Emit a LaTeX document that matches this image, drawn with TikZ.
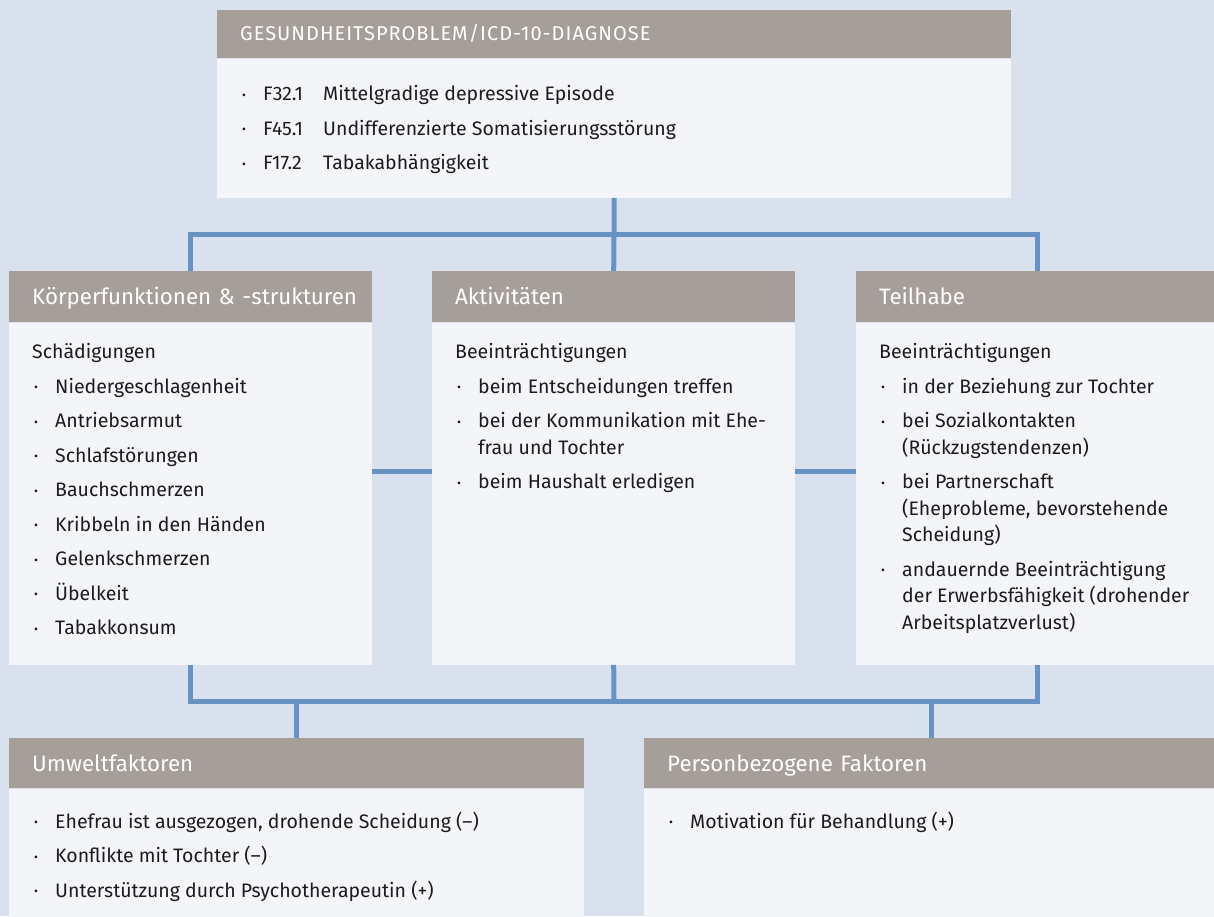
\documentclass[tikz,border=0pt]{standalone}
\usepackage{fontspec}
\setmainfont{Fira Sans}

\definecolor{hintergrund}{HTML}{DAE1EE}
\definecolor{kopfgrau}{HTML}{A69E98}
\definecolor{feldweiss}{HTML}{F3F5F9}
\definecolor{linienblau}{HTML}{6892C2}
\definecolor{schrift}{HTML}{1C1C1C}

\newcommand{\kopfschrift}{\fontsize{22.3}{25}\selectfont}
\newcommand{\feldschrift}{\fontsize{19.5}{26.5}\selectfont}
\newcommand{\punktzeichen}{\raisebox{1.5pt}{\fontsize{12}{12}\selectfont •}}

% Aufzaehlung mit kleinem Punkt
\newenvironment{punkte}{%
	\begin{list}{\punktzeichen}{%
		\setlength{\leftmargin}{23pt}\setlength{\labelwidth}{23pt}%
		\setlength{\labelsep}{0pt}\setlength{\itemsep}{8pt}%
		\setlength{\parsep}{0pt}\setlength{\topsep}{8pt}\setlength{\partopsep}{0pt}%
		\renewcommand{\makelabel}[1]{\hspace*{2pt}##1\hfil}}}%
	{\end{list}}

% Feldinhalt: Hoehe, Breite, Abstand oben, Text
\newcommand{\feldtext}[4]{\begin{minipage}[t][#1][t]{#2}\raggedright\vspace*{#3}#4\end{minipage}}

\begin{document}
\begin{tikzpicture}[x=1pt, y=-1pt,
		kopf/.style={rectangle, fill=kopfgrau, text=white, anchor=north west, inner xsep=23pt, inner ysep=0pt, text height=18pt, text depth=2pt, align=left, font=\kopfschrift},
		feld/.style={rectangle, fill=feldweiss, text=schrift, anchor=north west, inner xsep=23pt, inner ysep=0pt, font=\feldschrift},
		verbinder/.style={draw=linienblau, line width=5pt}]
	\useasboundingbox (0,0) rectangle (1214,916);
	\clip (0,0) rectangle (1214,916);
	\fill[hintergrund] (0,0) rectangle (1214,916);

	% Gesundheitsproblem
	\node[kopf, text width=748pt, minimum height=48pt, text height=15pt, text depth=3pt, font=\fontsize{20}{22}\selectfont\addfontfeatures{LetterSpace=5}] (diagKopf) at (217,10) {GESUNDHEITSPROBLEM/ICD-10-DIAGNOSE};
	\node[feld] (diagFeld) at (diagKopf.south west) {\feldtext{139pt}{748pt}{27pt}{%
		\begin{punkte}
			\item \makebox[60pt][l]{F32.1}Mittelgradige depressive Episode
			\item \makebox[60pt][l]{F45.1}Undifferenzierte Somatisierungsstörung
			\item \makebox[60pt][l]{F17.2}Tabakabhängigkeit
		\end{punkte}}};

	% Koerperfunktionen, Aktivitaeten, Teilhabe
	\node[kopf, text width=317pt, minimum height=51pt] (koerperKopf) at (9,271) {\mbox{Körperfunktionen \& -strukturen}};
	\node[feld] (koerperFeld) at (koerperKopf.south west) {\feldtext{342pt}{317pt}{21pt}{%
		Schädigungen
		\begin{punkte}
			\item Niedergeschlagenheit
			\item Antriebsarmut
			\item Schlafstörungen
			\item Bauchschmerzen
			\item Kribbeln in den Händen
			\item Gelenkschmerzen
			\item Übelkeit
			\item Tabakkonsum
		\end{punkte}}};

	\node[kopf, text width=317pt, minimum height=51pt] (aktivKopf) at (432,271) {Aktivitäten};
	\node[feld] (aktivFeld) at (aktivKopf.south west) {\feldtext{342pt}{317pt}{21pt}{%
		Beeinträchtigungen
		\begin{punkte}
			\item beim Entscheidungen treffen
			\item bei der Kommunikation mit Ehe-\\frau und Tochter
			\item beim Haushalt erledigen
		\end{punkte}}};

	\node[kopf, text width=317pt, minimum height=51pt] (teilhabeKopf) at (856,271) {Teilhabe};
	\node[feld] (teilhabeFeld) at (teilhabeKopf.south west) {\feldtext{342pt}{317pt}{21pt}{%
		Beeinträchtigungen
		\begin{punkte}
			\item in der Beziehung zur Tochter
			\item bei Sozialkontakten\\(Rückzugstendenzen)
			\item bei Partnerschaft\\(Eheprobleme, bevorstehende\\Scheidung)
			\item andauernde Beeinträchtigung\\der Erwerbsfähigkeit (drohender\\Arbeitsplatzverlust)
		\end{punkte}}};

	% Kontextfaktoren
	\node[kopf, text width=529pt, minimum height=50pt] (umweltKopf) at (9,738) {Umweltfaktoren};
	\node[feld] (umweltFeld) at (umweltKopf.south west) {\feldtext{140pt}{529pt}{23pt}{%
		\begin{punkte}
			\item Ehefrau ist ausgezogen, drohende Scheidung (–)
			\item Konflikte mit Tochter (–)
			\item Unterstützung durch Psychotherapeutin (+)
		\end{punkte}}};

	\node[kopf, text width=529pt, minimum height=50pt] (personKopf) at (644,738) {Personbezogene Faktoren};
	\node[feld] (personFeld) at (personKopf.south west) {\feldtext{140pt}{529pt}{23pt}{%
		\begin{punkte}
			\item Motivation für Behandlung (+)
		\end{punkte}}};

	% Verbindungen
	\coordinate (verteilerOben) at (614,234);
	\coordinate (verteilerUnten) at (614,701);
	\draw[verbinder] (diagFeld.south) -- (verteilerOben);
	\draw[verbinder] (koerperKopf.north) |- (verteilerOben) -| (teilhabeKopf.north);
	\draw[verbinder] (verteilerOben) -- (aktivKopf.north);
	\draw[verbinder] ([yshift=22.5pt]koerperFeld.east) -- ([yshift=22.5pt]aktivFeld.west);
	\draw[verbinder] ([yshift=22.5pt]aktivFeld.east) -- ([yshift=22.5pt]teilhabeFeld.west);
	\draw[verbinder] (koerperFeld.south) |- (verteilerUnten) -| (teilhabeFeld.south);
	\draw[verbinder] (aktivFeld.south) -- (verteilerUnten);
	\draw[verbinder] (umweltKopf.north) -- (umweltKopf.north |- verteilerUnten);
	\draw[verbinder] (personKopf.north) -- (personKopf.north |- verteilerUnten);
\end{tikzpicture}
\end{document}
